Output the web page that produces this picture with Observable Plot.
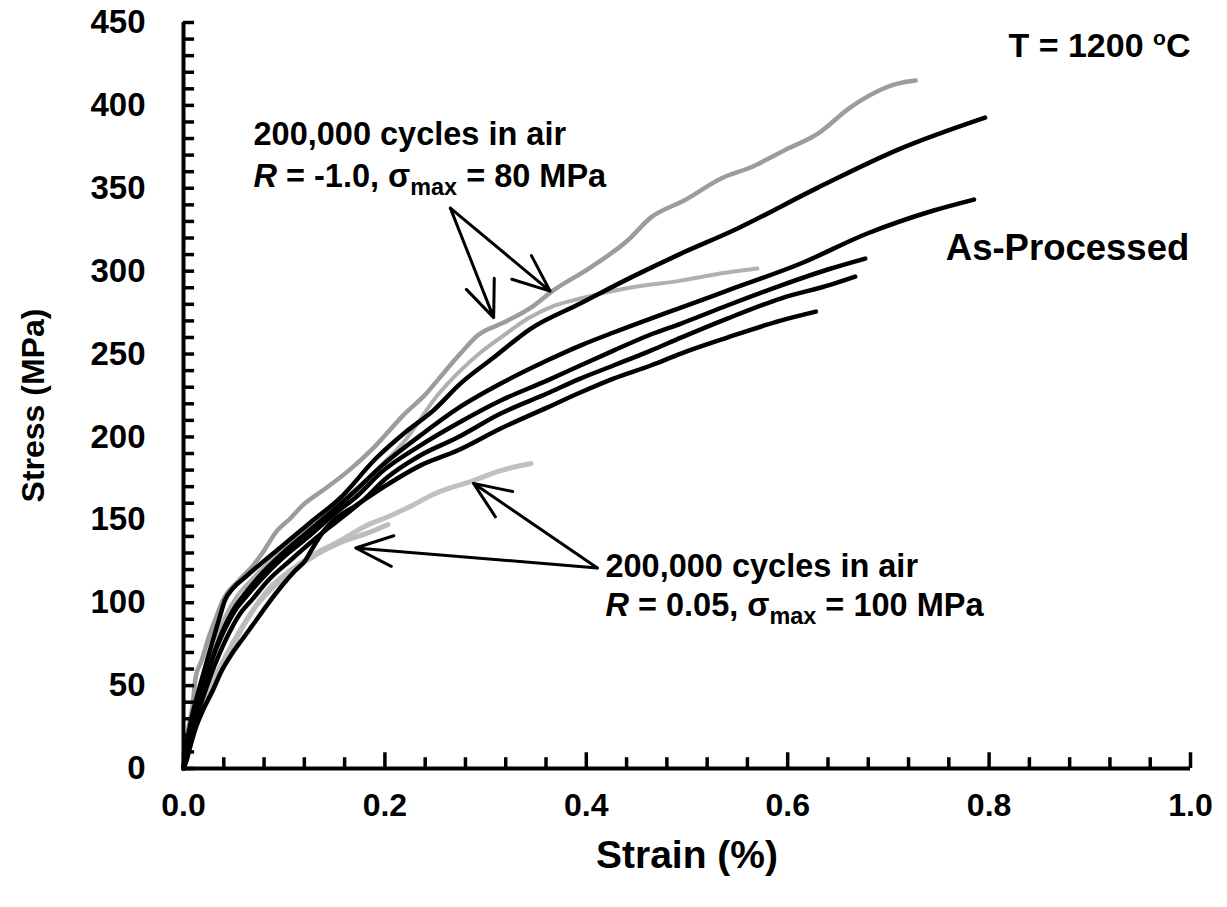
<!DOCTYPE html>
<html><head><meta charset="utf-8">
<script src="https://cdn.jsdelivr.net/npm/d3@7"></script>
<script src="https://cdn.jsdelivr.net/npm/@observablehq/plot@0.6"></script>
<style>
body{margin:0;background:#fff;}
#chart svg{display:block;}
</style></head><body><div id="chart"></div>
<script>
// ---- data: [strain %, stress MPa] ----
const asProcessed1 = [[0,0],[0.003,13.9],[0.008,30.2],[0.015,47.0],[0.022,62.1],[0.029,77.2],[0.035,89.3],[0.041,101.3],[0.049,108.6],[0.062,115.8],[0.078,124.2],[0.101,135.7],[0.126,148.4],[0.156,163.4],[0.191,187.0],[0.220,202.7],[0.248,215.9],[0.275,232.2],[0.308,247.9],[0.345,265.4],[0.394,280.5],[0.444,296.1],[0.494,310.6],[0.546,324.5],[0.630,350.4],[0.712,373.9],[0.796,392.6]];
const asProcessed2 = [[0,0],[0.003,10.9],[0.007,22.9],[0.012,36.2],[0.018,48.3],[0.025,60.3],[0.032,72.4],[0.039,83.2],[0.049,95.3],[0.062,106.2],[0.076,116.4],[0.096,128.5],[0.121,141.7],[0.146,154.4],[0.171,167.7],[0.196,182.1],[0.235,200.8],[0.272,217.1],[0.315,232.2],[0.361,246.1],[0.394,255.1],[0.427,263.0],[0.464,271.4],[0.494,278.0],[0.540,288.3],[0.613,304.6],[0.679,322.7],[0.745,336.6],[0.785,343.2]];
const asProcessed3 = [[0,0],[0.002,9.7],[0.006,21.1],[0.011,33.8],[0.017,45.8],[0.024,57.9],[0.031,70.0],[0.039,81.4],[0.050,94.1],[0.064,104.9],[0.078,114.6],[0.098,126.7],[0.123,139.3],[0.148,152.6],[0.173,164.7],[0.196,178.5],[0.235,194.8],[0.272,208.1],[0.315,222.0],[0.361,234.0],[0.394,243.1],[0.427,252.1],[0.464,261.8],[0.494,268.4],[0.540,279.3],[0.593,291.3],[0.643,301.6],[0.677,307.6]];
const asProcessed4 = [[0,0],[0.003,7.8],[0.007,18.1],[0.013,31.4],[0.020,44.0],[0.027,56.1],[0.035,68.2],[0.044,80.2],[0.055,92.3],[0.069,102.5],[0.084,113.4],[0.106,125.5],[0.131,138.7],[0.156,150.8],[0.178,161.6],[0.201,174.9],[0.235,188.8],[0.272,199.6],[0.315,214.1],[0.361,226.2],[0.394,235.2],[0.427,243.1],[0.464,252.1],[0.494,259.9],[0.540,271.4],[0.593,283.5],[0.643,291.9],[0.667,296.7]];
const asProcessed5 = [[0,0],[0.003,4.8],[0.007,13.9],[0.013,25.9],[0.020,36.2],[0.029,47.0],[0.037,57.9],[0.047,68.2],[0.059,78.4],[0.072,89.3],[0.084,99.5],[0.098,110.4],[0.111,119.4],[0.121,125.5],[0.128,132.7],[0.138,142.3],[0.149,149.6],[0.171,158.6],[0.201,170.7],[0.235,182.7],[0.272,191.8],[0.315,205.1],[0.361,217.7],[0.394,226.8],[0.427,235.2],[0.464,243.1],[0.494,250.3],[0.540,259.9],[0.593,270.2],[0.628,275.6]];
const fatigueRneg1a = [[0,0],[0.002,13.9],[0.005,24.7],[0.009,38.0],[0.012,54.9],[0.018,65.1],[0.025,79.0],[0.032,90.5],[0.039,101.3],[0.055,113.4],[0.069,122.4],[0.078,129.7],[0.093,143.5],[0.106,150.8],[0.118,158.6],[0.141,168.9],[0.164,179.7],[0.189,193.6],[0.218,212.9],[0.242,226.8],[0.252,234.0],[0.275,250.3],[0.292,261.2],[0.318,269.0],[0.345,278.0],[0.367,288.3],[0.404,302.2],[0.441,318.5],[0.464,332.3],[0.497,342.6],[0.536,356.5],[0.563,362.5],[0.596,372.7],[0.630,383.0],[0.662,398.7],[0.709,413.1],[0.727,415.0]];
const fatigueRneg1b = [[0,0],[0.003,12.1],[0.007,24.1],[0.012,38.0],[0.018,51.9],[0.025,65.1],[0.033,79.0],[0.042,92.3],[0.053,103.7],[0.067,113.4],[0.084,124.2],[0.106,137.5],[0.131,149.6],[0.161,163.4],[0.191,179.7],[0.220,197.8],[0.252,225.0],[0.275,240.0],[0.295,250.9],[0.318,261.2],[0.342,271.4],[0.369,279.3],[0.394,283.5],[0.444,290.1],[0.494,294.3],[0.533,298.6],[0.570,301.6]];
const fatigueR005a = [[0,0],[0.007,16.9],[0.017,32.0],[0.029,47.0],[0.042,65.1],[0.057,83.2],[0.072,98.3],[0.086,109.2],[0.106,119.4],[0.131,129.7],[0.156,137.5],[0.178,145.4],[0.206,152.6],[0.223,157.4],[0.250,165.9],[0.288,173.7],[0.315,179.7],[0.345,184.0]];
const fatigueR005b = [[0,0],[0.005,13.9],[0.012,28.9],[0.022,44.0],[0.032,56.1],[0.045,71.2],[0.059,86.2],[0.074,99.5],[0.091,110.4],[0.111,120.6],[0.134,129.7],[0.161,137.5],[0.184,142.3],[0.203,147.2]];

// ---- ticks ----
const xMajorTicks = [0, 0.2, 0.4, 0.6, 0.8, 1.0];
const xMinorTicks = [0.04,0.08,0.12,0.16,0.24,0.28,0.32,0.36,0.44,0.48,0.52,0.56,0.64,0.68,0.72,0.76,0.84,0.88,0.92,0.96];
const yLabelTicks = [0,50,100,150,200,250,300,350,400,450];
const yMinorTicks = [10,20,30,40,60,70,80,90,110,120,130,140,160,170,180,190,210,220,230,240,260,270,280,290,310,320,330,340,360,370,380,390,410,420,430,440];
// inward tick lengths, in axis units
const xTickLenMinor = 6.5, xTickLenMajor = 9.5;   // MPa
const yTickLen = 0.011;                            // strain %

// ---- annotations ----
const noteText = ["200,000 cycles in air", "R = -1.0, σmax = 80 MPa", "200,000 cycles in air", "R = 0.05, σmax = 100 MPa"];
const noteX = [0.0695, 0.0695, 0.419, 0.419];
const noteY = [382.5, 357, 121.5, 98];
const arrowFrom = [[0.265, 338], [0.265, 338], [0.411, 121], [0.411, 121]];
const arrowTo = [[0.308, 272], [0.364, 288], [0.288, 172], [0.171, 133]];
const tempLabel = {x: 1.0, y: 436, text: "T = 1200 oC"};
const groupLabel = {x: 0.757, y: 313.5, text: "As-Processed"};

const seriesList = [
  {data: fatigueR005a, color: "#c0c0c0", w: 5},
  {data: fatigueR005b, color: "#bcbcbc", w: 5},
  {data: fatigueRneg1b, color: "#b0b0b0", w: 4},
  {data: fatigueRneg1a, color: "#9c9c9c", w: 4.5},
  {data: asProcessed5, color: "#000", w: 4.5},
  {data: asProcessed4, color: "#000", w: 4.5},
  {data: asProcessed3, color: "#000", w: 4.5},
  {data: asProcessed2, color: "#000", w: 4.5},
  {data: asProcessed1, color: "#000", w: 4.5}
];

const notes = noteText.map((t, i) => ({text: t, x: noteX[i], y: noteY[i]}));
const arrows = arrowFrom.map((a, i) => ({x1: a[0], y1: a[1], x2: arrowTo[i][0], y2: arrowTo[i][1]}));
const FONT = "Liberation Sans, Arial, sans-serif";

const chart = Plot.plot({
  width: 1227, height: 907,
  marginLeft: 183, marginRight: 37, marginTop: 22, marginBottom: 139,
  style: {fontFamily: FONT, background: "#fff", overflow: "visible"},
  x: {domain: [0, 1.0]},
  y: {domain: [0, 450]},
  marks: [
    ...seriesList.map(s => Plot.line(s.data, {x: d => d[0], y: d => d[1], stroke: s.color, strokeWidth: s.w, strokeLinejoin: "round", strokeLinecap: "round", curve: "monotone-x"})),
    Plot.arrow(arrows, {x1: "x1", y1: "y1", x2: "x2", y2: "y2", stroke: "#000", strokeWidth: 3, headLength: 20, headAngle: 45}),
    Plot.text(notes, {x: "x", y: "y", text: "text", textAnchor: "start", lineAnchor: "middle", fontSize: 32.5, fontWeight: "bold", fill: "#000"}),
    Plot.text([tempLabel], {x: "x", y: "y", text: "text", textAnchor: "end", lineAnchor: "middle", fontSize: 34, fontWeight: "bold", fill: "#000"}),
    Plot.text([groupLabel], {x: "x", y: "y", text: "text", textAnchor: "start", lineAnchor: "middle", fontSize: 36.5, fontWeight: "bold", fill: "#000"}),
    // inward ticks
    Plot.ruleX(xMinorTicks, {x: d => d, y1: 0, y2: xTickLenMinor, stroke: "#000", strokeWidth: 3.5}),
    Plot.ruleX(xMajorTicks, {x: d => d, y1: 0, y2: xTickLenMajor, stroke: "#000", strokeWidth: 3.5}),
    Plot.ruleY(yMinorTicks, {y: d => d, x1: 0, x2: yTickLen, stroke: "#000", strokeWidth: 3.5}),
    Plot.ruleY(yLabelTicks, {y: d => d, x1: 0, x2: yTickLen, stroke: "#000", strokeWidth: 3.5}),
    // tick labels
    Plot.axisX(xMajorTicks, {anchor: "bottom", tickSize: 0, tickPadding: 25, fontSize: 32, fontWeight: "bold", tickFormat: d3.format(".1f"), fill: "#000", label: null}),
    Plot.axisY(yLabelTicks, {anchor: "left", tickSize: 0, tickPadding: 38, fontSize: 33, fontWeight: "bold", tickFormat: d => String(d), fill: "#000", label: null}),
    // axis lines
    Plot.ruleX([0], {stroke: "#000", strokeWidth: 4}),
    Plot.ruleY([0], {stroke: "#000", strokeWidth: 4}),
    Plot.text(["Strain (%)"], {frameAnchor: "bottom", text: d => d, dy: 87, textAnchor: "middle", lineAnchor: "middle", fontSize: 39, fontWeight: "bold", fill: "#000"}),
    Plot.text(["Stress (MPa)"], {frameAnchor: "left", text: d => d, dx: -150, dy: 10, rotate: -90, textAnchor: "middle", lineAnchor: "middle", fontSize: 32, fontWeight: "bold", fill: "#000"})
  ]
});

// subscripts / superscripts as real text
d3.select(chart).selectAll("text").each(function () {
  const t = this.textContent;
  const sel = d3.select(this);
  if (t.includes("σmax")) {
    const m = t.match(/^R(.*σ)max(.*)$/);
    sel.text("");
    sel.append("tspan").attr("font-style", "italic").text("R");
    sel.append("tspan").text(m[1]);
    sel.append("tspan").attr("font-size", "0.72em").attr("dy", "0.32em").text("max");
    sel.append("tspan").attr("dy", "-0.23em").text(m[2]);
  } else if (t === "T = 1200 oC") {
    sel.text("");
    sel.append("tspan").text("T = 1200 ");
    sel.append("tspan").attr("font-size", "0.62em").attr("dy", "-0.55em").text("o");
    sel.append("tspan").attr("dy", "0.34em").text("C");
  }
});

document.getElementById("chart").appendChild(chart);
</script>
</body></html>
